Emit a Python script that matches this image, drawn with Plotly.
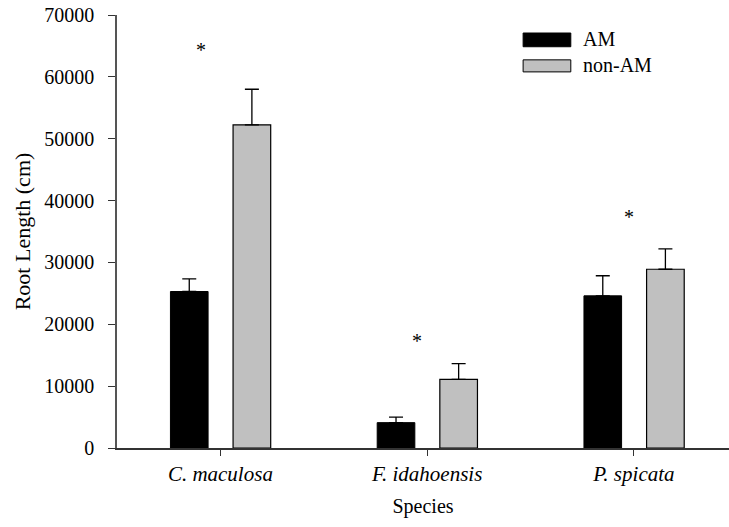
import plotly.graph_objects as go

species = ["<i>C. maculosa</i>", "<i>F. idahoensis</i>", "<i>P. spicata</i>"]
am_vals = [25300, 4100, 24600]
am_err = [2050, 900, 3250]
nonam_vals = [52250, 11100, 28900]
nonam_err = [5750, 2550, 3300]
star_y = [65000, 17900, 38000]
y_ticks = [0, 10000, 20000, 30000, 40000, 50000, 60000, 70000]

FONT = "Liberation Serif"

fig = go.Figure()
fig.add_trace(go.Bar(
    x=species, y=am_vals, name="AM",
    width=0.182, offset=-0.2415,
    marker=dict(color="#000000", line=dict(color="#000000", width=1)),
    error_y=dict(type="data", symmetric=False, array=am_err, arrayminus=[0]*3,
                 color="#000000", thickness=1.3, width=7),
))
fig.add_trace(go.Bar(
    x=species, y=nonam_vals, name="non-AM",
    width=0.182, offset=0.0614,
    marker=dict(color="#c0c0c0", line=dict(color="#000000", width=1.2)),
    error_y=dict(type="data", symmetric=False, array=nonam_err, arrayminus=[0]*3,
                 color="#000000", thickness=1.3, width=7),
))

# significance asterisks
xshifts = [-19, -10, -5]
for s, yv, dx in zip(species, star_y, xshifts):
    fig.add_annotation(x=s, y=yv, text="*", showarrow=False, xshift=dx, yshift=-4,
                       font=dict(family=FONT, size=20, color="#000"),
                       xanchor="center", yanchor="middle")

# custom legend (wide swatches)
fig.add_shape(type="rect", xref="paper", yref="paper", x0=0.6636, x1=0.7415,
              y0=0.9267, y1=0.9584, fillcolor="#000000", line=dict(color="#000", width=1))
fig.add_shape(type="rect", xref="paper", yref="paper", x0=0.6636, x1=0.7415,
              y0=0.8686, y1=0.8964, fillcolor="#c0c0c0", line=dict(color="#000", width=1))
fig.add_annotation(xref="paper", yref="paper", x=0.758, y=0.944, text="AM",
                   showarrow=False, xanchor="left", yanchor="middle",
                   font=dict(family=FONT, size=20, color="#000"))
fig.add_annotation(xref="paper", yref="paper", x=0.758, y=0.884, text="non-AM",
                   showarrow=False, xanchor="left", yanchor="middle",
                   font=dict(family=FONT, size=20, color="#000"))

fig.update_layout(
    width=729, height=527,
    margin=dict(l=117, r=0, t=15, b=79),
    plot_bgcolor="white", paper_bgcolor="white",
    showlegend=False,
    font=dict(family=FONT, size=20, color="#000"),
    barmode="overlay",
)
fig.update_xaxes(
    range=[-0.5, 2.46], showline=True, linecolor="#333", linewidth=1.5,
    ticks="outside", ticklen=6, tickwidth=1.3, tickcolor="#333",
    showgrid=False, zeroline=False,
    tickfont=dict(family=FONT, size=21),
    title=dict(text="Species", font=dict(family=FONT, size=20), standoff=14),
)
fig.update_yaxes(
    range=[0, 70000], tickvals=y_ticks, ticktext=[str(v) for v in y_ticks],
    showline=True, linecolor="#555", linewidth=1.5,
    ticks="outside", ticklen=7, tickwidth=1.3, tickcolor="#333",
    showgrid=False, zeroline=False,
    tickfont=dict(family=FONT, size=20), ticklabelstandoff=10,
    title=dict(text="Root Length (cm)", font=dict(family=FONT, size=22), standoff=8),
)

fig.write_html("out.html")
